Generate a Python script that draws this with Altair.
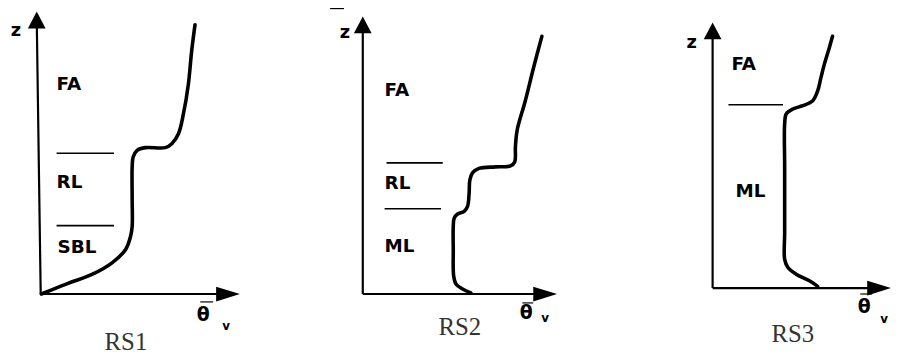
import altair as alt
import pandas as pd

# ---------------- data (panel units: theta_v right, z up) ----------------
panels = ["RS1", "RS2", "RS3"]

rs1_theta = [0.7, 25.7, 52.3, 72.3, 85.7, 90.7, 92.3, 92.3, 92.3, 93.3, 97.3, 105.7, 125.7, 132.3, 139, 144, 149, 152.3, 155.7]
rs1_z = [0, 10, 20, 31.7, 45, 58.3, 68.3, 95, 128.3, 138.3, 145, 147.7, 147.7, 151.7, 161.7, 181.7, 211.7, 245, 271.7]

rs2_theta = [109, 100.7, 94, 91.7, 91.3, 91.3, 92.3, 95.7, 102.3, 105.7, 107.3, 108, 110.7, 117.3, 134, 149, 153.3, 154, 155.7, 164, 172.3, 180.7]
rs2_z = [1, 5, 10, 18.3, 45, 68.3, 76.7, 80.7, 83.3, 88.3, 101.7, 115, 122.3, 126.7, 128.3, 129.3, 133.3, 148.3, 165, 195, 228.3, 260]

rs3_theta = [106, 97.7, 84.3, 76, 72.7, 72.7, 72.7, 72.7, 74.3, 81, 91, 101, 106, 109.3, 112.7, 117.7, 121]
rs3_z = [1.7, 7.3, 14, 20.7, 29, 55.7, 122.3, 165.7, 175.7, 180.7, 184, 189, 199, 212.3, 225.7, 242.3, 254]

# axis extents per panel
axis_top_theta = [-4, 0, 0]
axis_top_z = [285, 280, 268]
axis_end_theta = [201, 196, 180]

# layer boundary lines
bound_panel = ["RS1", "RS1", "RS2", "RS2", "RS3"]
bound_z = [142, 69, 132.3, 86, 185]
bound_theta0 = [16, 16, 24, 22, 16]
bound_theta1 = [74, 74, 80.7, 79, 71]

# layer names
layer_panel = ["RS1", "RS1", "RS1", "RS2", "RS2", "RS2", "RS3", "RS3"]
layer_name = ["FA", "RL", "SBL", "FA", "RL", "ML", "FA", "ML"]
layer_theta = [16, 16, 17, 22, 22, 22, 19, 23]
layer_z = [212, 113, 47, 206, 112, 48, 226, 98]

# axis labels and panel titles
zlab_theta = [-25, -18, -21]
zlab_z = [265, 263, 247]
thlab_theta = [164, 165, 153]
thlab_z = [-21, -19, -19]
bar_theta0 = [161, 161, 149]
bar_theta1 = [174, 172, 161]
bar_z = [-8, -9, -6]
vlab_theta = [187, 184, 173]
vlab_z = [-32, -24, -31]
title_theta = [86, 98, 81]
title_z = [-49, -33, -46]

# ---------------- layout (where each panel's origin sits in the figure) ----------------
ORIGIN = {"RS1": (41, 295), "RS2": (366, 295), "RS3": (719, 289)}
FIG_H = 360


def gx(p, t):
    return ORIGIN[p][0] + t


def gy(p, z):
    return FIG_H - ORIGIN[p][1] + z


# ---------------- tables ----------------
rows = []
for p, th, zz in [("RS1", rs1_theta, rs1_z), ("RS2", rs2_theta, rs2_z), ("RS3", rs3_theta, rs3_z)]:
    for i, (t, z) in enumerate(zip(th, zz)):
        rows.append({"panel": p, "i": i, "gx": gx(p, t), "gy": gy(p, z)})
curves = pd.DataFrame(rows)

axes_rows = []
for k, p in enumerate(panels):
    axes_rows.append({"panel": p, "gx": gx(p, 0), "gy": gy(p, 0), "gx2": gx(p, axis_top_theta[k]), "gy2": gy(p, axis_top_z[k] - 8)})
    axes_rows.append({"panel": p, "gx": gx(p, 0), "gy": gy(p, 0), "gx2": gx(p, axis_end_theta[k] - 12), "gy2": gy(p, 0)})
axes_df = pd.DataFrame(axes_rows)

up_df = pd.DataFrame([{"panel": p, "gx": gx(p, axis_top_theta[k]), "gy": gy(p, axis_top_z[k] - 8.5)} for k, p in enumerate(panels)])
right_df = pd.DataFrame([{"panel": p, "gx": gx(p, axis_end_theta[k] - 12), "gy": gy(p, 0)} for k, p in enumerate(panels)])

bounds_df = pd.DataFrame([
    {"gx": gx(p, a), "gx2": gx(p, b), "gy": gy(p, z)}
    for p, z, a, b in zip(bound_panel, bound_z, bound_theta0, bound_theta1)
])
bars_df = pd.DataFrame([
    {"gx": gx(p, bar_theta0[k]), "gx2": gx(p, bar_theta1[k]), "gy": gy(p, bar_z[k])} for k, p in enumerate(panels)
] + [{"gx": gx("RS2", -33), "gx2": gx("RS2", -19), "gy": gy("RS2", 288)}])

names_df = pd.DataFrame([
    {"label": n, "gx": gx(p, t), "gy": gy(p, z)} for p, n, t, z in zip(layer_panel, layer_name, layer_theta, layer_z)
])
zlab_df = pd.DataFrame([{"label": "z", "gx": gx(p, zlab_theta[k]), "gy": gy(p, zlab_z[k])} for k, p in enumerate(panels)])
thlab_df = pd.DataFrame([{"label": "θ", "gx": gx(p, thlab_theta[k]), "gy": gy(p, thlab_z[k])} for k, p in enumerate(panels)])
vlab_df = pd.DataFrame([{"label": "v", "gx": gx(p, vlab_theta[k]), "gy": gy(p, vlab_z[k])} for k, p in enumerate(panels)])
title_df = pd.DataFrame([{"label": p, "gx": gx(p, title_theta[k]), "gy": gy(p, title_z[k])} for k, p in enumerate(panels)])

# ---------------- chart ----------------
xs = alt.Scale(domain=[8, 899], nice=False, zero=False)
ys = alt.Scale(domain=[0, 352], nice=False, zero=False)
X = alt.X("gx:Q", scale=xs, axis=None)
Y = alt.Y("gy:Q", scale=ys, axis=None)

curve = alt.Chart(curves).mark_line(color="black", strokeWidth=3.6, interpolate="catmull-rom", strokeCap="round").encode(
    x=X, y=Y, detail="panel:N", order="i:Q"
)
axes = alt.Chart(axes_df).mark_rule(color="black", strokeWidth=2.2).encode(
    x=X, y=Y, x2="gx2:Q", y2="gy2:Q"
)
up = alt.Chart(up_df).mark_point(shape="M0,-1L1.05,1L-1.05,1Z", filled=True, size=289, color="black", opacity=1, strokeWidth=0).encode(x=X, y=Y)
right = alt.Chart(right_df).mark_point(shape="M1,0L-1,0.62L-1,-0.62Z", filled=True, size=576, color="black", opacity=1, strokeWidth=0).encode(x=X, y=Y)
bounds = alt.Chart(bounds_df).mark_rule(color="black", strokeWidth=1.6).encode(x=X, x2="gx2:Q", y=Y)
bars = alt.Chart(bars_df).mark_rule(color="black", strokeWidth=1.2).encode(x=X, x2="gx2:Q", y=Y)

names = alt.Chart(names_df).mark_text(align="left", baseline="middle", font="DejaVu Sans", fontWeight="bold", fontSize=18.5, color="black").encode(
    x=X, y=Y, text="label:N"
)
zlab = alt.Chart(zlab_df).mark_text(align="center", baseline="middle", font="DejaVu Sans", fontWeight="bold", fontSize=18, color="black").encode(
    x=X, y=Y, text="label:N"
)
thlab = alt.Chart(thlab_df).mark_text(align="center", baseline="middle", font="DejaVu Sans", fontWeight="bold", fontSize=19, color="black").encode(
    x=X, y=Y, text="label:N"
)
vlab = alt.Chart(vlab_df).mark_text(align="center", baseline="middle", font="DejaVu Sans", fontWeight="bold", fontSize=12, color="black").encode(
    x=X, y=Y, text="label:N"
)
titles = alt.Chart(title_df).mark_text(align="center", baseline="middle", font="Liberation Serif", fontSize=25, color="#333333").encode(
    x=X, y=Y, text="label:N"
)

chart = alt.layer(curve, axes, up, right, bounds, bars, names, zlab, thlab, vlab, titles).properties(
    width=891, height=352, padding=0, autosize=alt.AutoSizeParams(type="none")
).configure_view(stroke=None)

chart.save("out.html", embed_options={"renderer": "svg", "actions": False})
